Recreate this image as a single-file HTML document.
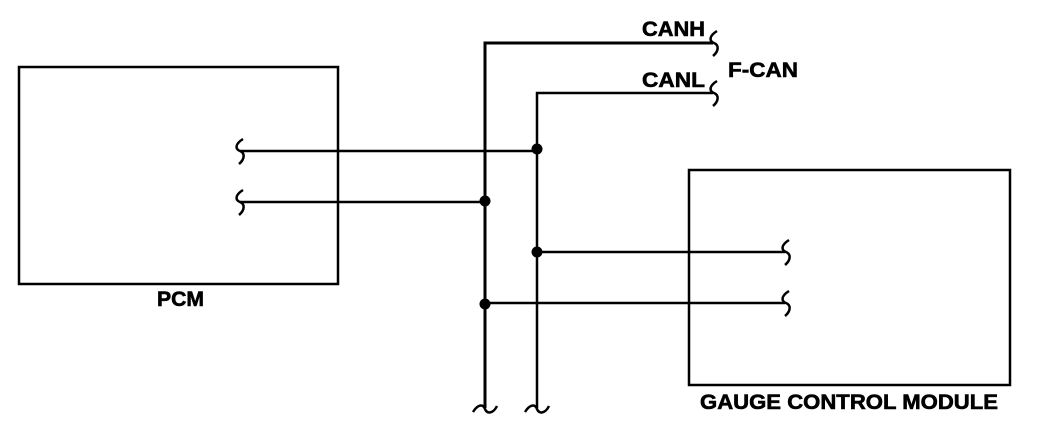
<!DOCTYPE html>
<html><head><style>
html,body{margin:0;padding:0;background:#fff;}
svg{display:block;}
text{font-family:"Liberation Sans",sans-serif;font-weight:bold;font-size:21px;fill:#000;stroke:#000;stroke-width:0.6;}
</style></head><body>
<svg width="1056" height="428" viewBox="0 0 1056 428" xmlns="http://www.w3.org/2000/svg">
<g fill="none" stroke="#000" stroke-width="2.5">
<rect x="19" y="67" width="319" height="217"/>
<rect x="689" y="170" width="321" height="215"/>
<path d="M485 408 V43 H713" stroke-width="3"/>
<path d="M537 408 V93 H713"/>
<path d="M240 151 H537"/>
<path d="M240 202 H485"/>
<path d="M537 252 H785"/>
<path d="M485 303 H785"/>
<path d="M717 31 C709 36,709 41,714 43 C719 45,719 51,713 56"/>
<path d="M717 81 C709 86,709 91,714 93 C719 95,719 101,713 106"/>
<path d="M243 139 C235 144,235 149,240 151 C245 153,245 159,239 164"/>
<path d="M243 190 C235 195,235 200,240 202 C245 204,245 210,239 215"/>
<path d="M789 240 C781 245,781 250,786 252 C791 254,791 260,785 265"/>
<path d="M789 291 C781 296,781 301,786 303 C791 305,791 311,785 316"/>
<path d="M473 412 C478 404,483 404,485 409 C487 414,493 414,497 406"/>
<path d="M525 412 C530 404,535 404,537 409 C539 414,545 414,549 406"/>
</g>
<g fill="#000">
<circle cx="537" cy="149" r="5.5"/>
<circle cx="485" cy="201" r="5.5"/>
<circle cx="537" cy="252" r="5.5"/>
<circle cx="485" cy="304" r="5.5"/>
</g>
<text x="642" y="36" textLength="63" lengthAdjust="spacingAndGlyphs">CANH</text>
<text x="642" y="87" textLength="63" lengthAdjust="spacingAndGlyphs">CANL</text>
<text x="728" y="77" textLength="70" lengthAdjust="spacingAndGlyphs">F-CAN</text>
<text x="157" y="306" textLength="47" lengthAdjust="spacingAndGlyphs">PCM</text>
<text x="700" y="409" textLength="298" lengthAdjust="spacingAndGlyphs">GAUGE CONTROL MODULE</text>
</svg>
</body></html>
